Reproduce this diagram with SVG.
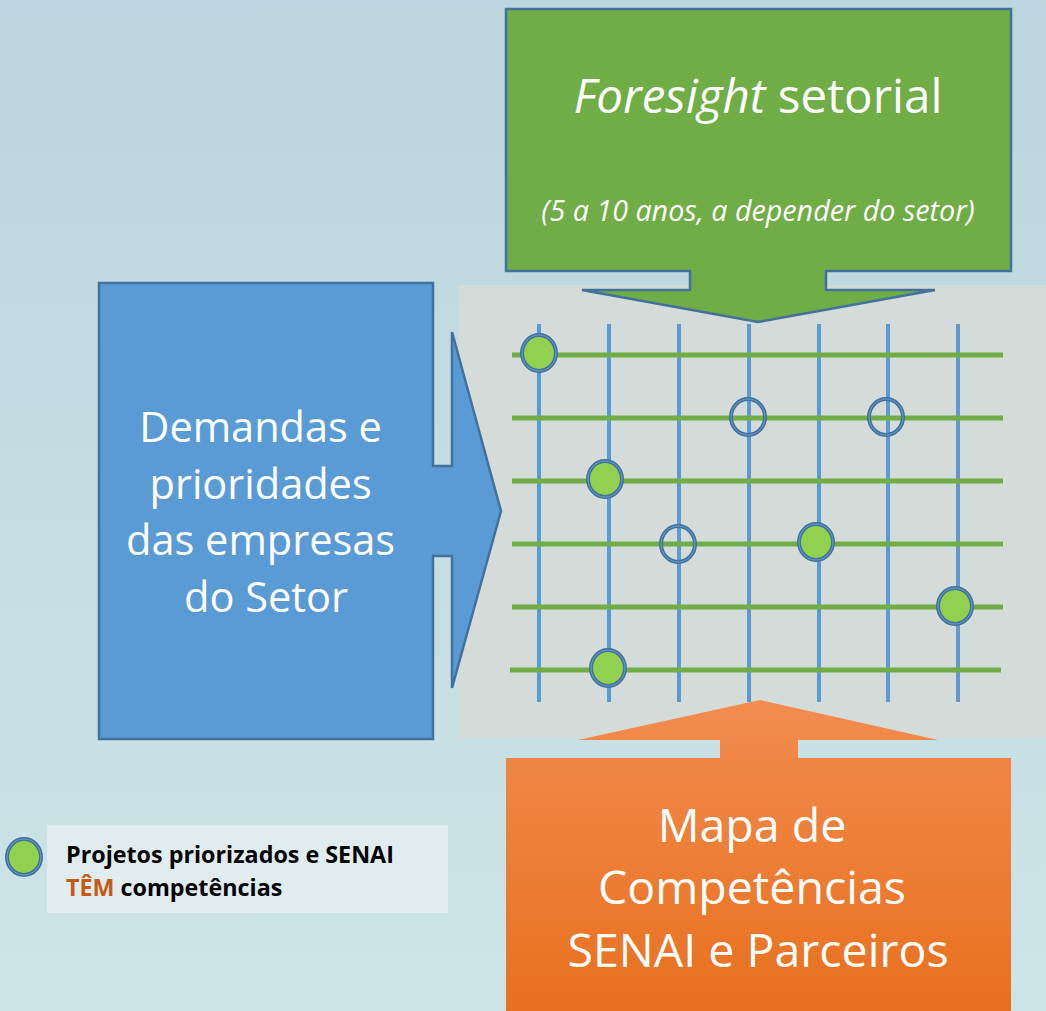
<svg xmlns="http://www.w3.org/2000/svg" width="1046" height="1011" viewBox="0 0 1046 1011">
<defs>
<linearGradient id="bg" x1="0" y1="0" x2="0" y2="1">
<stop offset="0" stop-color="#bcd5de"/>
<stop offset="1" stop-color="#cde5e8"/>
</linearGradient>
<linearGradient id="og" x1="0" y1="0" x2="0" y2="1">
<stop offset="0" stop-color="#f28c4f"/>
<stop offset="1" stop-color="#e8701e"/>
</linearGradient>
<style>
.vl{stroke:#5b9bd5;stroke-width:4}
.hl{stroke:#70ad47;stroke-width:5}
.dot{stroke:#41719c;stroke-width:4}
.full{fill:#92d050}
.empty{fill:none}
.ring{fill:none;stroke:#6a9fd0;stroke-width:1}
.big{font-family:"Open Sans","Noto Sans",sans-serif;fill:#ffffff;text-anchor:middle}
</style>
</defs>
<rect x="0" y="0" width="1046" height="1011" fill="url(#bg)"/>
<g id="grid-panel">
<rect x="459" y="285" width="587" height="453" fill="#d5dbd9"/>
</g>
<g id="connectors">
<line class="vl" x1="539" y1="324" x2="539" y2="702"/>
<line class="vl" x1="609" y1="324" x2="609" y2="702"/>
<line class="vl" x1="679" y1="324" x2="679" y2="702"/>
<line class="vl" x1="749" y1="324" x2="749" y2="702"/>
<line class="vl" x1="819" y1="324" x2="819" y2="702"/>
<line class="vl" x1="888" y1="324" x2="888" y2="702"/>
<line class="vl" x1="958" y1="324" x2="958" y2="702"/>
<line class="hl" x1="512" y1="355" x2="1003" y2="355"/>
<line class="hl" x1="512" y1="418" x2="1003" y2="418"/>
<line class="hl" x1="512" y1="481" x2="1003" y2="481"/>
<line class="hl" x1="512" y1="544" x2="1003" y2="544"/>
<line class="hl" x1="512" y1="607" x2="1003" y2="607"/>
<line class="hl" x1="510" y1="670" x2="1001" y2="670"/>
</g>
<g id="points">
<ellipse class="dot full" cx="539" cy="353" rx="17" ry="18"/>
<ellipse class="dot empty" cx="748" cy="417" rx="17" ry="18"/>
<ellipse class="dot empty" cx="886" cy="417" rx="17" ry="18"/>
<ellipse class="dot full" cx="605" cy="479" rx="17" ry="18"/>
<ellipse class="dot empty" cx="678" cy="544" rx="17" ry="18"/>
<ellipse class="dot full" cx="816" cy="542" rx="17" ry="18"/>
<ellipse class="dot full" cx="955" cy="606" rx="17" ry="18"/>
<ellipse class="dot full" cx="608" cy="668" rx="17" ry="18"/>
<ellipse class="ring" cx="539" cy="353" rx="17" ry="18"/>
<ellipse class="ring" cx="748" cy="417" rx="17" ry="18"/>
<ellipse class="ring" cx="886" cy="417" rx="17" ry="18"/>
<ellipse class="ring" cx="605" cy="479" rx="17" ry="18"/>
<ellipse class="ring" cx="678" cy="544" rx="17" ry="18"/>
<ellipse class="ring" cx="816" cy="542" rx="17" ry="18"/>
<ellipse class="ring" cx="955" cy="606" rx="17" ry="18"/>
<ellipse class="ring" cx="608" cy="668" rx="17" ry="18"/>
</g>
<g id="foresight">
<path d="M506 9 H1011 V271 H826 V290 H935 L758 322 L582 290 H690 V271 H506 Z" fill="#70ad47" stroke="#41719c" stroke-width="2.5" stroke-linejoin="miter"/>
<text class="big" x="758" y="113" font-size="47.5"><tspan font-style="italic">Foresight</tspan> setorial</text>
<text class="big" x="758" y="221" font-size="28.7" font-style="italic">(5 a 10 anos, a depender do setor)</text>
</g>
<g id="demandas">
<path d="M99 283 H433 V466 H452 V332 L501 511 L452 688 V556 H433 V739 H99 Z" fill="#5b9bd5" stroke="#41719c" stroke-width="2.5"/>
<text class="big" font-size="41.5">
<tspan x="266" y="442">Demandas e</tspan>
<tspan x="266" y="499">prioridades</tspan>
<tspan x="266" y="555">das empresas</tspan>
<tspan x="266" y="612">do Setor</tspan>
</text>
</g>
<g id="mapa">
<path d="M506 1011 V758 H720 V740 H578 L760 700 L938 740 H798 V758 H1011 V1011 Z" fill="url(#og)"/>
<text class="big" font-size="46.5">
<tspan x="758" y="842">Mapa de</tspan>
<tspan x="758" y="904">Competências</tspan>
<tspan x="758" y="967">SENAI e Parceiros</tspan>
</text>
</g>
<g id="legend">
<rect x="47" y="825" width="401" height="88" fill="#e0ecf0"/>
<ellipse class="dot full" cx="24" cy="857" rx="17" ry="18"/>
<ellipse class="ring" cx="24" cy="857" rx="17" ry="18"/>
<text font-family="'Open Sans','Noto Sans',sans-serif" font-weight="bold" font-size="23.3" fill="#000000">
<tspan x="66" y="863">Projetos priorizados e SENAI</tspan>
<tspan x="66" y="896"><tspan fill="#c55a11">TÊM</tspan> competências</tspan>
</text>
</g>
</svg>
